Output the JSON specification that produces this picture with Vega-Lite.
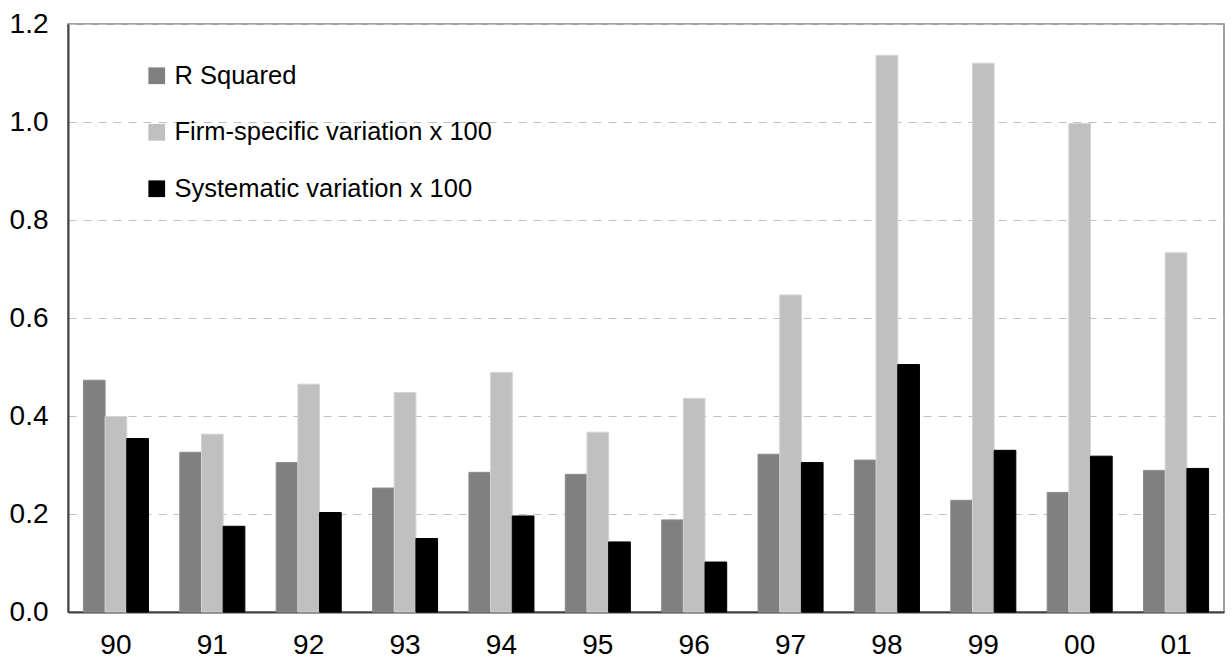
{
  "$schema": "https://vega.github.io/schema/vega-lite/v6.json",
  "autosize": "none",
  "width": 1156,
  "height": 588,
  "padding": {"left": 68, "top": 24, "right": 8, "bottom": 51},
  "background": "white",
  "config": {
    "font": "Liberation Sans",
    "view": {"stroke": "#808080", "strokeWidth": 1.5},
    "axis": {"labelFont": "Liberation Sans", "labelColor": "#000000"}
  },
  "data": {
    "values": [
      {"year": "90", "series": "R Squared", "value": 0.473},
      {"year": "90", "series": "Firm-specific variation x 100", "value": 0.399},
      {"year": "90", "series": "Systematic variation x 100", "value": 0.354},
      {"year": "91", "series": "R Squared", "value": 0.326},
      {"year": "91", "series": "Firm-specific variation x 100", "value": 0.363},
      {"year": "91", "series": "Systematic variation x 100", "value": 0.175},
      {"year": "92", "series": "R Squared", "value": 0.305},
      {"year": "92", "series": "Firm-specific variation x 100", "value": 0.465},
      {"year": "92", "series": "Systematic variation x 100", "value": 0.203},
      {"year": "93", "series": "R Squared", "value": 0.253},
      {"year": "93", "series": "Firm-specific variation x 100", "value": 0.448},
      {"year": "93", "series": "Systematic variation x 100", "value": 0.150},
      {"year": "94", "series": "R Squared", "value": 0.285},
      {"year": "94", "series": "Firm-specific variation x 100", "value": 0.489},
      {"year": "94", "series": "Systematic variation x 100", "value": 0.196},
      {"year": "95", "series": "R Squared", "value": 0.281},
      {"year": "95", "series": "Firm-specific variation x 100", "value": 0.367},
      {"year": "95", "series": "Systematic variation x 100", "value": 0.143},
      {"year": "96", "series": "R Squared", "value": 0.188},
      {"year": "96", "series": "Firm-specific variation x 100", "value": 0.436},
      {"year": "96", "series": "Systematic variation x 100", "value": 0.102},
      {"year": "97", "series": "R Squared", "value": 0.322},
      {"year": "97", "series": "Firm-specific variation x 100", "value": 0.647},
      {"year": "97", "series": "Systematic variation x 100", "value": 0.305},
      {"year": "98", "series": "R Squared", "value": 0.310},
      {"year": "98", "series": "Firm-specific variation x 100", "value": 1.136},
      {"year": "98", "series": "Systematic variation x 100", "value": 0.505},
      {"year": "99", "series": "R Squared", "value": 0.228},
      {"year": "99", "series": "Firm-specific variation x 100", "value": 1.120},
      {"year": "99", "series": "Systematic variation x 100", "value": 0.330},
      {"year": "00", "series": "R Squared", "value": 0.244},
      {"year": "00", "series": "Firm-specific variation x 100", "value": 0.997},
      {"year": "00", "series": "Systematic variation x 100", "value": 0.318},
      {"year": "01", "series": "R Squared", "value": 0.289},
      {"year": "01", "series": "Firm-specific variation x 100", "value": 0.733},
      {"year": "01", "series": "Systematic variation x 100", "value": 0.293}
    ]
  },
  "mark": {"type": "bar", "strokeWidth": 1},
  "encoding": {
    "x": {
      "field": "year",
      "type": "nominal",
      "sort": ["90", "91", "92", "93", "94", "95", "96", "97", "98", "99", "00", "01"],
      "scale": {"paddingInner": 0.325, "paddingOuter": 0.16},
      "axis": {
        "title": null,
        "labelAngle": 0,
        "labelFontSize": 28,
        "labelPadding": 19,
        "ticks": false,
        "domainColor": "#404040",
        "domainWidth": 2
      }
    },
    "xOffset": {
      "field": "series",
      "type": "nominal",
      "sort": ["R Squared", "Firm-specific variation x 100", "Systematic variation x 100"],
      "scale": {"paddingInner": 0, "paddingOuter": 0}
    },
    "y": {
      "field": "value",
      "type": "quantitative",
      "scale": {"domain": [0, 1.2], "nice": false},
      "axis": {
        "title": null,
        "values": [0, 0.2, 0.4, 0.6, 0.8, 1.0, 1.2],
        "format": ".1f",
        "labelFontSize": 28,
        "labelPadding": 20,
        "ticks": false,
        "domainColor": "#404040",
        "domainWidth": 2,
        "gridColor": "#c0c0c0",
        "gridDash": [8, 7],
        "gridWidth": 1.2
      }
    },
    "color": {
      "field": "series",
      "type": "nominal",
      "sort": ["R Squared", "Firm-specific variation x 100", "Systematic variation x 100"],
      "scale": {
        "domain": ["R Squared", "Firm-specific variation x 100", "Systematic variation x 100"],
        "range": ["#808080", "#c0c0c0", "#000000"]
      },
      "legend": {
        "title": null,
        "orient": "none",
        "legendX": 76,
        "legendY": 39,
        "symbolType": "square",
        "symbolSize": 280,
        "symbolStrokeWidth": 0,
        "labelFontSize": 25.5,
        "labelOffset": 5,
        "labelLimit": 0,
        "labelColor": "#000000",
        "rowPadding": 29.5
      }
    },
    "stroke": {
      "field": "series",
      "type": "nominal",
      "scale": {
        "domain": ["R Squared", "Firm-specific variation x 100", "Systematic variation x 100"],
        "range": ["#8c8c8c", "#d4d4d4", "#000000"]
      },
      "legend": null
    }
  }
}
